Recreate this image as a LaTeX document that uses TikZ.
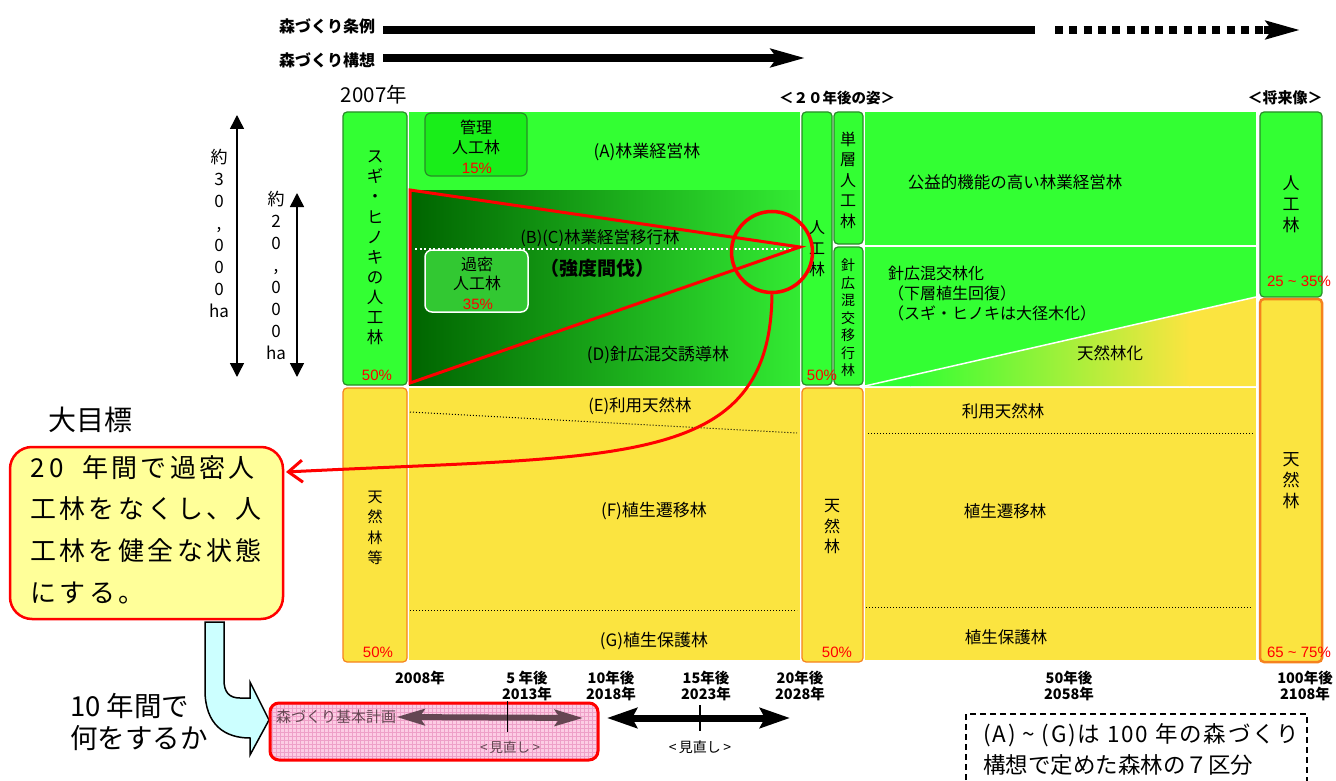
\documentclass[tikz,border=0pt]{standalone}
\usepackage{fontspec}
\setmainfont{Noto Sans CJK JP}
\newfontfamily\arialf{Liberation Sans}
\usetikzlibrary{arrows.meta,shapes.geometric}
\definecolor{G}{RGB}{51,255,51}
\definecolor{DG}{RGB}{40,140,40}
\definecolor{GK}{RGB}{25,238,25}
\definecolor{GM}{RGB}{50,200,50}
\definecolor{GD}{RGB}{0,100,0}
\definecolor{GR}{RGB}{51,235,51}
\definecolor{Y}{RGB}{251,228,64}
\definecolor{OR}{RGB}{245,130,30}
\definecolor{CY}{RGB}{255,255,153}
\definecolor{PK}{RGB}{252,205,228}
\definecolor{PKG}{RGB}{238,160,200}
\definecolor{LC}{RGB}{204,255,255}
\definecolor{MV}{RGB}{100,70,82}
\newcommand{\fsz}[2]{\fontsize{#1}{#2}\selectfont}
\begin{document}
\begin{tikzpicture}[x=1pt,y=-1pt,
  gbox/.style={draw=DG, fill=G, line width=1.2pt, rounded corners=4pt},
  ybox/.style={draw=OR, fill=Y, line width=1.2pt, rounded corners=4pt},
  lab/.style={inner sep=0pt, font=\fsz{16.5}{20}},
  vlab/.style={inner sep=0pt, align=center, font=\fsz{16}{20}},
  tl/.style={inner sep=0pt, align=center, font=\bfseries\fsz{14.5}{16.5}},
  pct/.style={inner sep=0pt, text=red, font=\arialf\fsz{15}{18}},
  dots/.style={line width=1pt, dash pattern=on 1pt off 2pt},
  big/.style={line width=8pt},
  bighead/.style={-{Stealth[length=34pt,width=18pt,inset=6pt]}},
  vhead/.style={{Triangle[length=14pt,width=14pt]}-{Triangle[length=14pt,width=14pt]}},
]
\useasboundingbox (0,0) rectangle (1336,781);
\fill[white] (0,0) rectangle (1336,781);

% ---------- top arrows ----------
\node[lab, anchor=west, font=\bfseries\fsz{16}{18}] (jorei) at (279,26) {森づくり条例};
\node[lab, anchor=west, font=\bfseries\fsz{16}{18}] (koso) at (279,60) {森づくり構想};
\coordinate (j1) at (383,30); \coordinate (j2) at (1035,30);
\coordinate (j3) at (1055,30); \coordinate (j4) at (1268,30);
\coordinate (j4b) at (1264,30); \coordinate (j5) at (1300,30);
\draw[big] (j1) -- (j2);
\draw[big, dash pattern=on 8pt off 6.3pt] (j3) -- (j4);
\draw[big, bighead] (j4b) -- (j5);
\coordinate (k1) at (383,58); \coordinate (k2) at (805,58);
\draw[big, bighead] (k1) -- (k2);

\node[lab, font=\fsz{20.5}{22}] (y2007) at (374,95) {2007年};
\node[lab, font=\bfseries\fsz{14.5}{16}] (h20) at (837,98) {＜２０年後の姿＞};
\node[lab, font=\bfseries\fsz{15}{16}] (hfut) at (1285,98) {＜将来像＞};

% ---------- green upper region (left) ----------
\fill[G] (409,112) rectangle (800,385);
\shade[left color=GD, right color=GR] (409,190) rectangle (800,385);
\draw[white, line width=2pt, dash pattern=on 2pt off 2.5pt] (415,249) -- (795,249);

% ---------- green upper region (right) ----------
\fill[G] (865,112) rectangle (1256,386);
\begin{scope}
  \clip (865,386) -- (1256,297) -- (1256,386) -- cycle;
  \fill[G] (865,290) rectangle (911,387);
  \shade[left color=G, right color=Y] (910,290) rectangle (1190,387);
  \fill[Y] (1189,290) rectangle (1257,387);
\end{scope}
\draw[white, line width=1.5pt] (865,386) -- (1256,297);
\draw[white, line width=1.5pt] (865,246) -- (1256,246);

% ---------- yellow lower regions ----------
\fill[Y] (409,388) rectangle (800,660);
\fill[Y] (865,388) rectangle (1256,660);
\draw[dots] (410,412) -- (797,433);
\draw[dots] (410,610) -- (797,610);
\draw[dots] (868,433) -- (1254,433);
\draw[dots] (866,607) -- (1252,607);

% ---------- boxes ----------
\draw[gbox] (343,112) rectangle (407,385);
\draw[ybox] (343,388) rectangle (407,662);
\draw[gbox] (802,112) rectangle (832,385);
\draw[gbox] (834,112) rectangle (863,244);
\draw[gbox] (834,247) rectangle (863,385);
\draw[ybox] (802,388) rectangle (863,662);
\draw[gbox] (1260,112) rectangle (1322,297);
\draw[ybox, line width=2.5pt] (1260,299) rectangle (1322,662);
\draw[draw=DG, fill=GK, line width=1.2pt, rounded corners=6pt] (425,113) rectangle (527,176);
\draw[draw=white, fill=GM, line width=1.5pt, rounded corners=7pt] (425,250) rectangle (528,312);

% ---------- texts in regions ----------
\node[vlab, font=\fsz{16.5}{20.1}] (sugi) at (375,248) {ス\\ギ\\・\\ヒ\\ノ\\キ\\の\\人\\工\\林};
\node[vlab, font=\fsz{16}{20}] (kanri) at (476,137) {管理\\人工林};
\node[vlab, font=\fsz{16}{19}] (kamitsu) at (477,274) {過密\\人工林};
\node[lab, font=\fsz{17}{20}] (A) at (647,152) {(A)林業経営林};
\node[lab, font=\fsz{16.5}{20}] (BC) at (600,238) {(B)(C)林業経営移行林};
\node[lab, font=\bfseries\fsz{19}{20}] (kyodo) at (597,268) {（強度間伐）};
\node[lab, font=\fsz{17}{20}] (D) at (658,355) {(D)針広混交誘導林};
\node[lab] (E) at (640,406) {(E)利用天然林};
\node[lab, font=\fsz{17}{20}] (F) at (654,511) {(F)植生遷移林};
\node[lab, font=\fsz{17}{20}] (Gt) at (654,641) {(G)植生保護林};
\node[vlab, font=\fsz{15}{20.5}] (tenk) at (375,528) {天\\然\\林\\等};

\node[vlab, font=\fsz{16}{21}] (jin20) at (817,249) {人\\工\\林};
\node[vlab, font=\fsz{16}{20.5}] (tanso) at (848,180) {単\\層\\人\\工\\林};
\node[vlab, font=\fsz{14}{17.5}] (shinko) at (848,318) {針\\広\\混\\交\\移\\行\\林};
\node[vlab, font=\fsz{16}{20.5}] (ten20) at (832,527) {天\\然\\林};

\node[lab, font=\fsz{16.5}{20}] (koeki) at (1015,182) {公益的機能の高い林業経営林};
\node[lab, anchor=north west, align=left, font=\fsz{16}{20}] (konko) at (888,266) {針広混交林化\\（下層植生回復）\\（スギ・ヒノキは大径木化）};
\node[lab] (tenka) at (1110,353) {天然林化};
\node[lab] (riyo) at (1003,411) {利用天然林};
\node[lab] (seni) at (1005,511) {植生遷移林};
\node[lab] (hogo) at (1006,637) {植生保護林};

\node[vlab, font=\fsz{17}{21}] (jinf) at (1291,204) {人\\工\\林};
\node[vlab, font=\fsz{17}{21}] (tenf) at (1291,481) {天\\然\\林};

% ---------- percentages ----------
\node[pct] (p50a) at (377,375) {50\%};
\node[pct] (p15) at (477,168) {15\%};
\node[pct] (p35) at (478,304) {35\%};
\node[pct] (p50b) at (822,375) {50\%};
\node[pct] (p2535) at (1299,281) {25 \textasciitilde{} 35\%};
\node[pct] (p50c) at (378,652) {50\%};
\node[pct] (p50d) at (837,652) {50\%};
\node[pct] (p6575) at (1299,652) {65 \textasciitilde{} 75\%};

% ---------- red triangle, circle, curve ----------
\coordinate (t1) at (410,190); \coordinate (t2) at (800,247); \coordinate (t3) at (410,383);
\draw[red, line width=3pt, line join=miter] (t1) -- (t2) -- (t3) -- cycle;
\node[circle, draw=red, line width=3.5pt, minimum size=81pt, inner sep=0pt] (circ) at (772,252) {};

% ---------- area arrows ----------
\coordinate (a1t) at (237,115); \coordinate (a1b) at (237,377);
\coordinate (a2t) at (297,193); \coordinate (a2b) at (297,377);
\draw[line width=1.5pt, vhead] (a1t) -- (a1b);
\draw[line width=1.5pt, vhead] (a2t) -- (a2b);
\node[vlab, font=\fsz{17}{22}] (l30) at (219,233) {約\\3\\0\\,\\0\\0\\0\\ha};
\node[vlab, font=\fsz{17}{22}] (l20) at (276,275) {約\\2\\0\\,\\0\\0\\0\\ha};

% ---------- goal callout ----------
\node[lab, font=\fsz{28}{30}] (daimoku) at (90,420) {大目標};
\node[draw=red, fill=CY, line width=2.5pt, rounded corners=22pt, minimum width=273pt, minimum height=172pt, inner sep=0pt] (callout) at (146.5,533) {};
\node[anchor=north west, align=left, inner sep=0pt, font={\fsz{26}{41.7}\addfontfeature{LetterSpace=13}}] (goal) at (30,455) {2\hspace{5pt}0\hspace{18pt}年間で過密人\\工林をなくし、人\\工林を健全な状態\\にする。};
\coordinate (ctip) at (286,472);
\draw[red, line width=3pt, -{Straight Barb[length=14pt,width=22pt]}] (circ.south) .. controls (770,470) and (620,455) .. (ctip);

% ---------- block arrow ----------
\draw[black, fill=LC, line width=1.5pt, line join=miter] (205,622) -- (205,690) .. controls (205,725) and (225,738) .. (250,738) -- (250,755) -- (269,720) -- (250,682) -- (250,698) -- (240,698) .. controls (229,698) and (224,692) .. (224,680) -- (224,622) -- cycle;
\node[anchor=west, align=left, inner sep=0pt, font=\fsz{27.5}{32}] (nani) at (70,722) {10 年間で\\何をするか};

% ---------- time labels ----------
\node[tl] (t2008) at (420,678) {2008年};
\node[tl] (t2013) at (527,686) {5 年後\\2013年};
\node[tl] (t2018) at (611,686) {10年後\\2018年};
\node[tl] (t2023) at (706,686) {15年後\\2023年};
\node[tl] (t2028) at (800,686) {20年後\\2028年};
\node[tl] (t2058) at (1069,686) {50年後\\2058年};
\node[tl] (t2108) at (1305,686) {100年後\\2108年};

% ---------- plan box ----------
\fill[PK, rounded corners=9pt] (270,703) rectangle (598,760);
\begin{scope}
  \clip[rounded corners=9pt] (270,703) rectangle (598,760);
  \draw[PKG, line width=0.4pt, step=4pt] (268,700) grid (600,764);
\end{scope}
\draw[red, line width=3pt, rounded corners=9pt] (270,703) rectangle (598,760);
\node[anchor=west, inner sep=0pt, font=\fsz{15}{18}, text=MV] (kihon) at (276,717) {森づくり基本計画};
\coordinate (pa2) at (583,718);
\draw[MV, line width=6pt, {Stealth[length=28pt,width=16pt,inset=5pt]}-{Stealth[length=28pt,width=16pt,inset=5pt]}] (kihon.east) -- (pa2);
\coordinate (tk1a) at (507,701); \coordinate (tk1b) at (507,732);
\draw[line width=1pt] (tk1a) -- (tk1b);
\node[lab, font=\fsz{13.5}{15}, text=MV] (mn1) at (510,747) {<\,見直し\,>};

\coordinate (ba1) at (607,718); \coordinate (ba2) at (790,718);
\draw[line width=7pt, {Stealth[length=30pt,width=20pt,inset=5pt]}-{Stealth[length=30pt,width=20pt,inset=5pt]}] (ba1) -- (ba2);
\coordinate (tk2a) at (700,705); \coordinate (tk2b) at (700,731);
\draw[line width=1.2pt] (tk2a) -- (tk2b);
\node[lab, font=\fsz{14}{15}] (mn2) at (700,747) {<\,見直し\,>};

% ---------- note box ----------
\draw[line width=1.5pt, dash pattern=on 6pt off 4pt] (966,790) -- (966,714) -- (1307,714) -- (1307,790);
\node[anchor=west, inner sep=0pt, font={\fsz{22.5}{30}\addfontfeature{LetterSpace=8}}] (note1) at (983,735) {(A) \textasciitilde{} (G)は 100 年の森づくり};
\node[anchor=west, inner sep=0pt, font=\fsz{22.5}{30}] (note2) at (983,765) {構想で定めた森林の７区分};
\end{tikzpicture}
\end{document}
